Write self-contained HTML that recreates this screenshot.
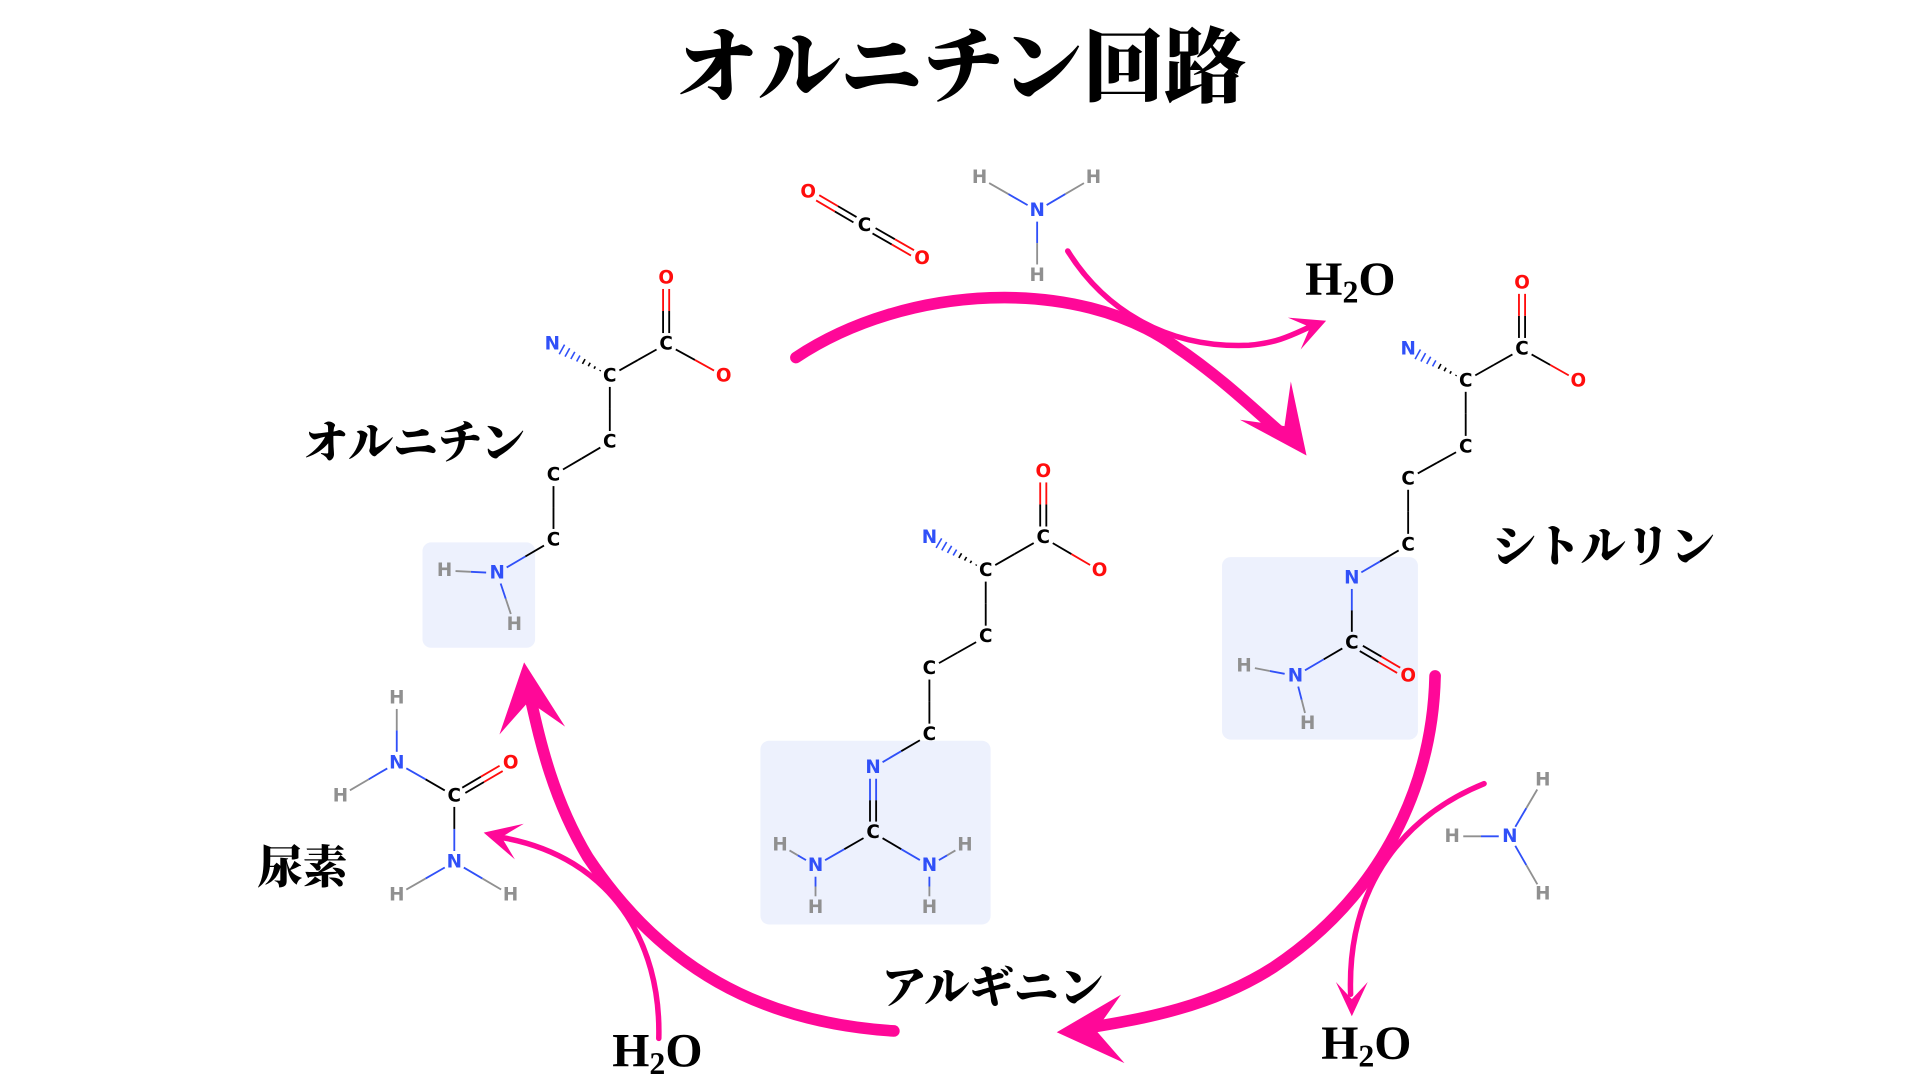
<!DOCTYPE html>
<html><head><meta charset="utf-8">
<style>
html,body{margin:0;padding:0;background:#fff;}
svg{display:block;}
.t{font-family:"Liberation Serif","Noto Serif CJK JP","Noto Serif CJK SC",serif;font-weight:900;fill:#000;}
.a{font-family:"DejaVu Sans","Liberation Sans",sans-serif;font-size:15px;text-anchor:middle;dominant-baseline:central;font-weight:bold;}
</style></head>
<body>
<svg id="s" width="1920" height="1084" viewBox="0 0 1568 885.3" xmlns="http://www.w3.org/2000/svg">
<rect width="1568" height="886" fill="#fff"/>
<rect x="345" y="443" width="92" height="86" rx="7" fill="#edf1fd"/>
<rect x="998" y="455" width="160" height="149" rx="7" fill="#edf1fd"/>
<rect x="621" y="605" width="188" height="150" rx="7" fill="#edf1fd"/>
<g id="mol"></g>
<g id="arr" fill="none" stroke="#ff0898" stroke-linecap="round"></g>
<g id="heads" fill="#ff0898"></g>
<text class="t" x="785" y="78" font-size="67" text-anchor="middle">オルニチン回路</text>
<text class="t" x="248" y="374" font-size="36.5">オルニチン</text>
<text class="t" x="1218" y="459" font-size="36.5">シトルリン</text>
<text class="t" x="720" y="819" font-size="36.5">アルギニン</text>
<text class="t" x="210" y="721" font-size="37">尿素</text>
<text class="t" x="1066" y="241" font-size="39">H<tspan font-size="26" dy="6">2</tspan><tspan dy="-6">O</tspan></text>
<text class="t" x="1079" y="865" font-size="39">H<tspan font-size="26" dy="6">2</tspan><tspan dy="-6">O</tspan></text>
<text class="t" x="500" y="871" font-size="39">H<tspan font-size="26" dy="6">2</tspan><tspan dy="-6">O</tspan></text>
</svg>
<script>
var NS="http://www.w3.org/2000/svg";
var col={C:"#000",N:"#3050f8",O:"#ff0d0d",H:"#909090"};
var mol=document.getElementById("mol");
function el(t,a,p){var e=document.createElementNS(NS,t);for(var k in a)e.setAttribute(k,a[k]);(p||mol).appendChild(e);return e;}
function draw(atoms,bonds){
 bonds.forEach(function(b){
  var A=atoms[b[0]],B=atoms[b[1]];
  var dx=B[1]-A[1],dy=B[2]-A[2],L=Math.hypot(dx,dy),ux=dx/L,uy=dy/L;
  var s=9,x1=A[1]+ux*s,y1=A[2]+uy*s,x2=B[1]-ux*s,y2=B[2]-uy*s;
  var mx=(x1+x2)/2,my=(y1+y2)/2;
  if(b[2]=="w"){
   for(var i=0;i<8;i++){var t=i/7,px=x1+(x2-x1)*t,py=y1+(y2-y1)*t,w=0.5+4*t;
    el("line",{x1:px-uy*w,y1:py+ux*w,x2:px+uy*w,y2:py-ux*w,stroke:t>0.5?col[B[0]]:col[A[0]],"stroke-width":1.3});}
   return;}
  var offs=b[2]==2?[-2.5,2.5]:[0];
  offs.forEach(function(o){var ox=-uy*o,oy=ux*o;
   el("line",{x1:x1+ox,y1:y1+oy,x2:mx+ox,y2:my+oy,stroke:col[A[0]],"stroke-width":1.5});
   el("line",{x1:mx+ox,y1:my+oy,x2:x2+ox,y2:y2+oy,stroke:col[B[0]],"stroke-width":1.5});});
 });
 atoms.forEach(function(a){var t=el("text",{x:a[1],y:a[2],"class":"a",fill:col[a[0]]});t.textContent=a[0];});
}
draw([["O",544,227],["C",544,281],["O",591,307],["C",498,307],["N",451,281],["C",498,361],["C",452,388],["C",452,441],["N",406,468],["H",363,466],["H",420,510]],
 [[1,0,2],[1,2],[3,1],[3,4,"w"],[3,5],[5,6],[6,7],[7,8],[8,9],[8,10]]);
draw([["O",1243,231],["C",1243,285],["O",1289,311],["C",1197,311],["N",1150,285],["C",1197,365],["C",1150,391],["C",1150,445],["N",1104,472],["C",1104,525],["O",1150,552],["N",1058,552],["H",1016,544],["H",1068,591]],
 [[1,0,2],[1,2],[3,1],[3,4,"w"],[3,5],[5,6],[6,7],[7,8],[8,9],[9,10,2],[9,11],[11,12],[11,13]]);
draw([["O",852,385],["C",852,439],["O",898,466],["C",805,466],["N",759,439],["C",805,520],["C",759,546],["C",759,600],["N",713,627],["C",713,680],["N",666,707],["N",759,707],["H",637,690],["H",666,741],["H",788,690],["H",759,741]],
 [[1,0,2],[1,2],[3,1],[3,4,"w"],[3,5],[5,6],[6,7],[7,8],[9,8,2],[9,10],[9,11],[10,12],[10,13],[11,14],[11,15]]);
draw([["H",324,570],["N",324,623],["H",278,650],["C",371,650],["O",417,623],["N",371,704],["H",324,731],["H",417,731]],
 [[1,0],[1,2],[3,1],[3,4,2],[3,5],[5,6],[5,7]]);
draw([["O",660,157],["C",706,184],["O",753,211]],[[1,0,2],[1,2,2]]);
draw([["H",800,145],["H",893,145],["N",847,172],["H",847,225]],[[2,0],[2,1],[2,3]]);
draw([["H",1260,637],["H",1186,683],["N",1233,683],["H",1260,730]],[[2,0],[2,1],[2,3]]);

var arr=document.getElementById("arr"),heads=document.getElementById("heads");
function path(d,w){el("path",{d:d,"stroke-width":w},arr);}
function head(tx,ty,dx,dy,len,wid,notch){var L=Math.hypot(dx,dy);dx/=L;dy/=L;var nx=-dy,ny=dx;
 var p=[[tx,ty],[tx-dx*len+nx*wid,ty-dy*len+ny*wid],[tx-dx*notch,ty-dy*notch],[tx-dx*len-nx*wid,ty-dy*len-ny*wid]];
 el("polygon",{points:p.map(function(q){return q.join(",")}).join(" ")},heads);}
path("M650,292 C740,232 880,225 960,283 C1000,310 1030,340 1048,355",9.5);
head(1067,372,0.75,1,56,26,30);
path("M872,205 C900,250 950,285 1020,282 C1045,280 1058,272 1072,266",4.5);
head(1083,262,1,-0.4,28,14,14);
path("M1172,552 C1170,640 1130,730 1040,790 C990,822 935,832 885,840",9.5);
head(863,843,-1,0.05,54,28,32);
path("M1212,640 C1150,665 1100,720 1103,812",4.5);
head(1104,830,0,1,28,13,14);
path("M730,842 C620,835 540,790 480,700 C450,650 440,600 432,565",9.5);
head(428,541,-0.12,-1,56,27,32);
path("M538,848 C540,770 500,700 410,684",4.5);
head(395,680,-1,-0.25,30,15,15);
</script>
</body></html>
